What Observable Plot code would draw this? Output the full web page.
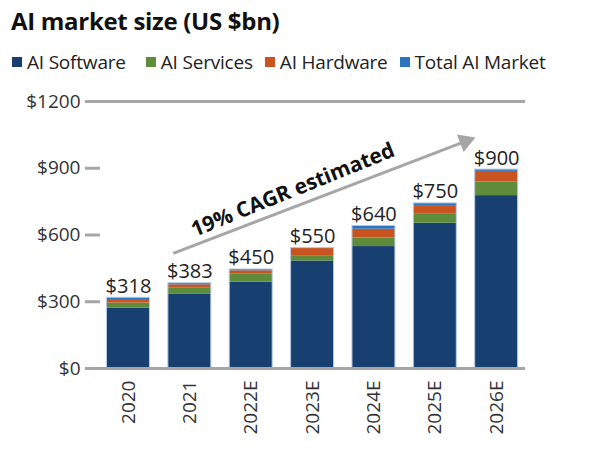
<!DOCTYPE html>
<html>
<head>
<meta charset="utf-8">
<script src="https://cdn.jsdelivr.net/npm/d3@7"></script>
<script src="https://cdn.jsdelivr.net/npm/@observablehq/plot@0.6"></script>
<style>
  html, body { margin: 0; padding: 0; background: #fff; width: 600px; height: 470px; overflow: hidden; }
  body { position: relative; font-family: "Open Sans", sans-serif; color: #222; }
  #title { position: absolute; left: 11px; top: 4px; font-size: 24px; font-weight: 700; color: #111; white-space: nowrap; letter-spacing: -0.3px; }
  #legend { position: absolute; left: 12px; top: 49px; font-size: 19px; color: #222; white-space: nowrap; display: flex; align-items: center; letter-spacing: -0.2px; }
  #legend .item { display: flex; align-items: center; }
  #legend .sw { width: 10px; height: 10px; margin-right: 5px; display: inline-block; }
  #chart { position: absolute; left: 0; top: 85px; }
</style>
</head>
<body>
<div id="title">AI market size (US $bn)</div>
<div id="legend"></div>
<div id="chart"></div>
<script>
const years = ["2020", "2021", "2022E", "2023E", "2024E", "2025E", "2026E"];
const software = [271, 333, 388, 483, 548, 653, 777];
const services = [23, 30, 38, 24, 39, 40, 61];
const hardware = [12, 13, 13, 34, 39, 39, 48];
const totalAI = [12, 7, 6, 0, 15, 10, 8];
const valueLabels = ["$318", "$383", "$450", "$550", "$640", "$750", "$900"];
const seriesNames = ["AI Software", "AI Services", "AI Hardware", "Total AI Market"];
const seriesColors = ["#173f70", "#5e8c3a", "#c9541f", "#2b74bf"];
const yTicks = [0, 300, 600, 900, 1200];
const annotationText = "19% CAGR estimated";
// arrow annotation in data units (x = bar index, y = $bn)
const arrowFrom = {x: 0.73, y: 517};
const arrowTo = {x: 5.49, y: 1021};
const textAt = {x: 2.68, y: 802};

// legend
const legend = document.getElementById("legend");
const gaps = [0, 20, 12, 12];
seriesNames.forEach((n, i) => {
  const it = document.createElement("span");
  it.className = "item";
  it.style.marginLeft = gaps[i] + "px";
  it.innerHTML = `<span class="sw" style="background:${seriesColors[i]}"></span>${n}`;
  legend.appendChild(it);
});

// stacked table
const series = [software, services, hardware, totalAI];
const rows = [];
const tops = [];
years.forEach((yr, i) => {
  let base = 0;
  series.forEach((s, k) => {
    rows.push({i, year: yr, series: seriesNames[k], y1: base, y2: base + s[i]});
    base += s[i];
  });
  tops.push({i, total: base, label: valueLabels[i]});
});

const half = 0.35;
const chart = Plot.plot({
  width: 600,
  height: 358,
  marginLeft: 100,
  marginRight: 75,
  marginTop: 16,
  marginBottom: 75,
  style: {fontFamily: "Open Sans, sans-serif", fontSize: "19px", color: "#222", background: "transparent"},
  x: {domain: [-0.456, 6.47], axis: null},
  y: {domain: [0, 1200], axis: null},
  color: {domain: seriesNames, range: seriesColors},
  marks: [
    Plot.ruleY([1200], {stroke: "#a6a6a6", strokeWidth: 3}),
    Plot.rect(rows, {x1: d => d.i - half, x2: d => d.i + half, y1: "y1", y2: "y2", fill: "series"}),
    Plot.rect(tops, {x1: d => d.i - half, x2: d => d.i + half, y1: 0, y2: "total", fill: "none", stroke: "#b7c9e2", strokeWidth: 1}),
    Plot.ruleY([0], {stroke: "#a6a6a6", strokeWidth: 3}),
    Plot.axisY({ticks: yTicks, tickFormat: d => "$" + d, tickSize: 15, tickPadding: 5, stroke: "#a6a6a6", strokeWidth: 3, label: null, fontSize: 19, fill: "#333"}),
    Plot.axisX({ticks: d3.range(years.length), tickFormat: i => years[i], tickRotate: -90, tickSize: 0, tickPadding: 12, label: null, fontSize: 19, fill: "#333"}),
    Plot.text(tops, {x: "i", y: "total", text: "label", lineAnchor: "bottom", dy: -5, fontSize: 20, fill: "#222"}),
    Plot.link([{x1: arrowFrom.x, y1: arrowFrom.y, x2: arrowTo.x, y2: arrowTo.y}], {x1: "x1", y1: "y1", x2: "x2", y2: "y2", stroke: "#a6a6a6", strokeWidth: 3}),
    Plot.dot([arrowTo], {x: "x", y: "y", symbol: "triangle", r: 7, fill: "#a6a6a6", stroke: "none", rotate: 69}),
    Plot.text([textAt], {x: "x", y: "y", text: () => annotationText, rotate: -22, fontSize: 21, fontWeight: 700, fill: "#111"})
  ]
});
document.getElementById("chart").appendChild(chart);
</script>
</body>
</html>
